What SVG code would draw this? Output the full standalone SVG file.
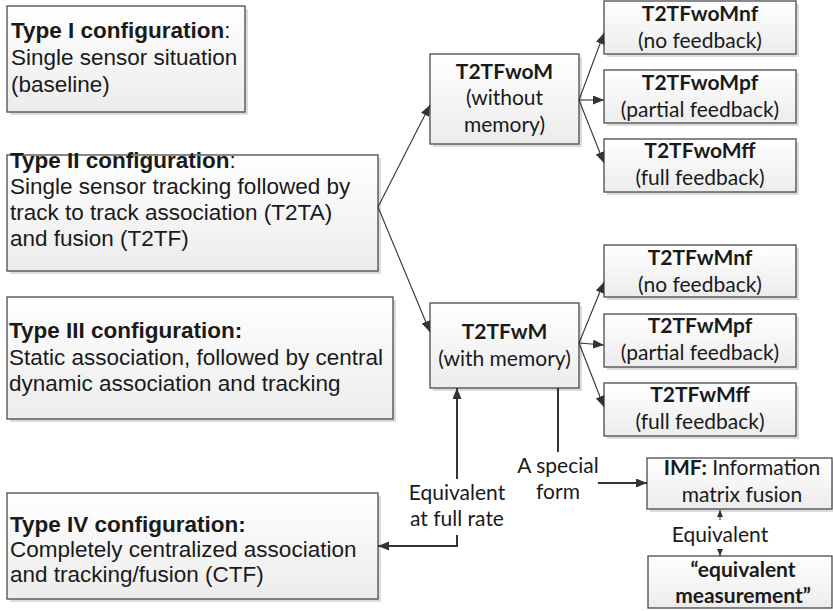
<svg xmlns="http://www.w3.org/2000/svg" width="833" height="611" viewBox="0 0 833 611">
<style>
.box{fill:url(#g);stroke:#4a4a4a;stroke-width:1.3}
.sh{fill:#dcdcdc}
.a{font-family:"Liberation Sans",Arial,sans-serif;font-size:22.5px;fill:#1a1a1a}
.c{font-family:Lato,"Liberation Sans",sans-serif;font-size:21px;fill:#1a1a1a;text-anchor:middle}
.b{font-weight:bold}
.ln{fill:none;stroke:#333;stroke-width:1.1}
.lt{fill:none;stroke:#333;stroke-width:2}
</style>
<defs>
<linearGradient id="g" x1="0" y1="0" x2="0" y2="1">
<stop offset="0" stop-color="#ffffff"/>
<stop offset="1" stop-color="#ececec"/>
</linearGradient>
<marker id="ar" markerUnits="userSpaceOnUse" markerWidth="12" markerHeight="10" refX="11" refY="4.5" orient="auto">
<path d="M0,0 L11,4.5 L0,9 z" fill="#333"/>
</marker>
<marker id="as" markerUnits="userSpaceOnUse" markerWidth="8" markerHeight="8" refX="7" refY="3" orient="auto">
<path d="M0,0 L7,3 L0,6 z" fill="#333"/>
</marker>
</defs>

<g id="typeI">
<rect class="sh" x="10" y="9" width="238" height="106"/>
<rect class="box" x="7" y="6" width="238" height="106"/>
<text class="a" x="11" y="38"><tspan class="b">Type I configuration</tspan>:</text>
<text class="a" x="11" y="65">Single sensor situation</text>
<text class="a" x="11" y="92">(baseline)</text>
</g>

<g id="typeII">
<rect class="sh" x="10" y="158" width="371" height="116"/>
<rect class="box" x="7" y="155" width="371" height="116"/>
<text class="a" x="10" y="168"><tspan class="b">Type II configuration</tspan>:</text>
<text class="a" x="10" y="194">Single sensor tracking followed by</text>
<text class="a" x="10" y="220">track to track association (T2TA)</text>
<text class="a" x="10" y="246">and fusion (T2TF)</text>
</g>

<g id="typeIII">
<rect class="sh" x="10" y="300" width="386" height="122"/>
<rect class="box" x="7" y="297" width="386" height="122"/>
<text class="a b" x="9" y="338">Type III configuration:</text>
<text class="a" x="9" y="365">Static association, followed by central</text>
<text class="a" x="9" y="391">dynamic association and tracking</text>
</g>

<g id="typeIV">
<rect class="sh" x="10" y="496" width="371" height="106"/>
<rect class="box" x="7" y="493" width="371" height="106"/>
<text class="a b" x="10" y="532">Type IV configuration:</text>
<text class="a" x="10" y="557">Completely centralized association</text>
<text class="a" x="10" y="582">and tracking/fusion (CTF)</text>
</g>

<g id="T2TFwoM">
<rect class="sh" x="433" y="57" width="149" height="90"/>
<rect class="box" x="430" y="54" width="149" height="90"/>
<text class="c b" x="504.5" y="79">T2TFwoM</text>
<text class="c" x="504.5" y="105">(without</text>
<text class="c" x="504.5" y="132">memory)</text>
</g>

<g id="T2TFwM">
<rect class="sh" x="433" y="306" width="149" height="85"/>
<rect class="box" x="430" y="303" width="149" height="85"/>
<text class="c b" x="504.5" y="339">T2TFwM</text>
<text class="c" x="504.5" y="366">(with memory)</text>
</g>

<g id="T2TFwoMnf">
<rect class="sh" x="607" y="4" width="192" height="53"/>
<rect class="box" x="604" y="1" width="192" height="53"/>
<text class="c b" x="700" y="21">T2TFwoMnf</text>
<text class="c" x="700" y="48">(no feedback)</text>
</g>
<g id="T2TFwoMpf">
<rect class="sh" x="607" y="73" width="192" height="53"/>
<rect class="box" x="604" y="70" width="192" height="53"/>
<text class="c b" x="700" y="90">T2TFwoMpf</text>
<text class="c" x="700" y="117">(partial feedback)</text>
</g>
<g id="T2TFwoMff">
<rect class="sh" x="607" y="142" width="192" height="53"/>
<rect class="box" x="604" y="139" width="192" height="53"/>
<text class="c b" x="700" y="158">T2TFwoMff</text>
<text class="c" x="700" y="185">(full feedback)</text>
</g>

<g id="T2TFwMnf">
<rect class="sh" x="607" y="248" width="192" height="52"/>
<rect class="box" x="604" y="245" width="192" height="52"/>
<text class="c b" x="700" y="265">T2TFwMnf</text>
<text class="c" x="700" y="292">(no feedback)</text>
</g>
<g id="T2TFwMpf">
<rect class="sh" x="607" y="317" width="192" height="53"/>
<rect class="box" x="604" y="314" width="192" height="53"/>
<text class="c b" x="700" y="333">T2TFwMpf</text>
<text class="c" x="700" y="360">(partial feedback)</text>
</g>
<g id="T2TFwMff">
<rect class="sh" x="607" y="386" width="192" height="53"/>
<rect class="box" x="604" y="383" width="192" height="53"/>
<text class="c b" x="700" y="402">T2TFwMff</text>
<text class="c" x="700" y="429">(full feedback)</text>
</g>

<g id="IMF">
<rect class="sh" x="650" y="461" width="184" height="51"/>
<rect class="box" x="647" y="458" width="185" height="51"/>
<text class="c" x="742" y="475"><tspan class="b">IMF:</tspan> Information</text>
<text class="c" x="742" y="502">matrix fusion</text>
</g>

<g id="eqmeas">
<rect class="box" x="648" y="556" width="184" height="52"/>
<text class="c b" x="743" y="577">“equivalent</text>
<text class="c b" x="743" y="603">measurement”</text>
</g>

<g id="connectors">
<path class="ln" d="M378,207 L430,105" marker-end="url(#ar)"/>
<path class="ln" d="M378,207 L430,332" marker-end="url(#ar)"/>
<path class="ln" d="M579,100 L604,33" marker-end="url(#ar)"/>
<path class="ln" d="M579,100 L604,100" marker-end="url(#ar)"/>
<path class="ln" d="M579,100 L604,163" marker-end="url(#ar)"/>
<path class="ln" d="M579,343 L604,282" marker-end="url(#ar)"/>
<path class="ln" d="M579,343 L604,345" marker-end="url(#ar)"/>
<path class="ln" d="M579,343 L604,407" marker-end="url(#ar)"/>
<path class="lt" d="M457,479 L457,388" marker-end="url(#ar)"/>
<path class="lt" d="M457,535 L457,546 L378,546" marker-end="url(#ar)"/>
<path class="lt" d="M558,388 L558,452"/>
<path class="lt" d="M598,483 L647,483" marker-end="url(#ar)"/>
<path class="ln" d="M720,520 L720,510" marker-end="url(#as)"/>
<path class="ln" d="M720,549 L720,556" marker-end="url(#as)"/>
<text class="c" x="457" y="500">Equivalent</text>
<text class="c" x="457" y="526">at full rate</text>
<text class="c" x="558" y="473">A special</text>
<text class="c" x="558" y="499">form</text>
<text class="c" x="720" y="542">Equivalent</text>
</g>
</svg>
